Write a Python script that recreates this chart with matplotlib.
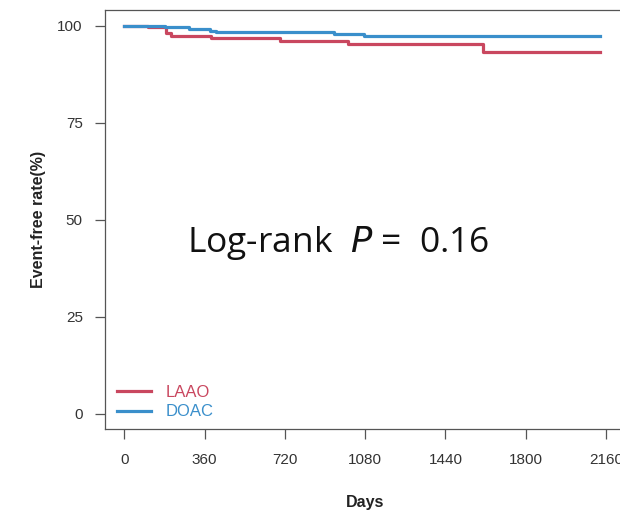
import matplotlib.pyplot as plt

# Kaplan-Meier step data (days, event-free %)
laao_days = [0, 105, 188, 211, 390, 697, 1005, 1610, 2133]
laao_rate = [100, 99.6, 98.1, 97.4, 96.9, 96.1, 95.2, 93.3, 93.3]

doac_days = [0, 181, 290, 383, 410, 940, 1075, 2133]
doac_rate = [100, 99.6, 99.1, 98.7, 98.3, 97.8, 97.4, 97.4]

x_ticks = [0, 360, 720, 1080, 1440, 1800, 2160]
y_ticks = [0, 25, 50, 75, 100]

RED = "#C9475F"
BLUE = "#3A8FCB"
GREY = "#555555"

fig = plt.figure(figsize=(6.2, 5.13), dpi=100)
# the reference is cropped on the right, so the axes run past the edge
ax = fig.add_axes([0.1694, 0.163, 0.839, 0.817])

ax.step(laao_days, laao_rate, where="post", color=RED, linewidth=2.3, label="LAAO")
ax.step(doac_days, doac_rate, where="post", color=BLUE, linewidth=2.3, label="DOAC")

ax.set_xlim(-86.4, 2246.4)
ax.set_ylim(-4, 104)
ax.set_xticks(x_ticks)
ax.set_yticks(y_ticks)

for side in ["left", "bottom", "top", "right"]:
    ax.spines[side].set_color(GREY)
    ax.spines[side].set_linewidth(0.9)

ax.tick_params(axis="both", length=7, width=0.9, color=GREY,
               labelsize=11, labelcolor="#333333")
ax.tick_params(axis="x", pad=10)
ax.tick_params(axis="y", pad=9)
for lab in ax.get_xticklabels() + ax.get_yticklabels():
    lab.set_family("Liberation Sans")

ax.set_xlabel("Days", fontsize=11.5, fontweight="bold", family="Liberation Sans",
              color="#222222", labelpad=20)
ax.set_ylabel("Event-free rate(%)", fontsize=11.5, fontweight="bold",
              family="Liberation Sans", color="#222222", labelpad=8)

leg = ax.legend(loc="lower left", bbox_to_anchor=(-0.005, -0.012), frameon=False,
                handlelength=2.0, handletextpad=0.9, labelspacing=0.25,
                prop={"family": "Liberation Sans", "size": 12})
for txt, c in zip(leg.get_texts(), [RED, BLUE]):
    txt.set_color(c)

ax.text(0.158, 0.445, "Log-rank  $\\mathit{P}$ =  0.16", transform=ax.transAxes,
        fontsize=25.5, family="Open Sans", color="#111111", ha="left", va="center")

fig.savefig("out.png", dpi=100)
